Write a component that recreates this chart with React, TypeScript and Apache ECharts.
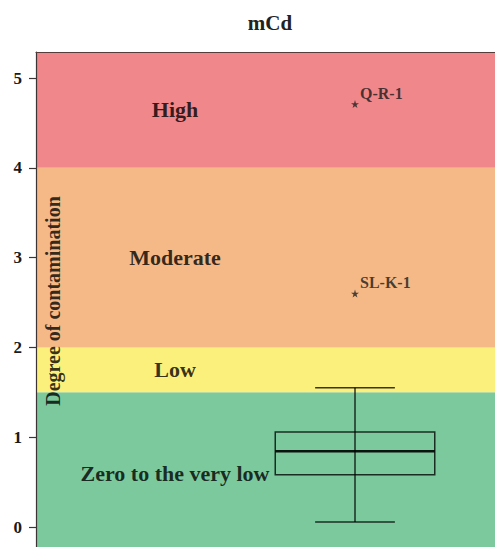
import React, { useEffect, useRef } from 'react';
import * as echarts from 'echarts';

const chartTitle = 'mCd';
const axisTitle = 'Degree of contamination';
const categories = ['mCd'];
const yTicks = [0, 1, 2, 3, 4, 5];
const yMin = -0.3;
const yMax = 5.29;

const bandNames = ['Zero to the very low', 'Low', 'Moderate', 'High'];
const bandFrom = [-0.3, 1.5, 2, 4];
const bandTo = [1.5, 2, 4, 5.29];

// min, q1, median, q3, max
const boxStats = [0.056, 0.583, 0.843, 1.058, 1.552];

const outlierNames = ['Q-R-1', 'SL-K-1'];
const outlierValues = [4.71, 2.6];

const bandColors = ['#7bc99c', '#fcf07c', '#f4b987', '#f0878b'];
const SERIF = "'Liberation Serif', 'Times New Roman', serif";
const STAR = 'path://M50,0 L61,35 L98,35 L68,57 L79,91 L50,70 L21,91 L32,57 L2,35 L39,35 Z';

export default function App() {
  const ref = useRef<HTMLDivElement>(null);

  useEffect(() => {
    if (!ref.current) return;
    const chart = echarts.init(ref.current, undefined, { renderer: 'svg' });
    const option: any = {
      animation: false,
      grid: { left: 36, top: 52, width: 638, height: 502 },
      graphic: [
        {
          type: 'text',
          x: 270,
          y: 23,
          style: {
            text: chartTitle,
            align: 'center',
            verticalAlign: 'middle',
            fontFamily: SERIF,
            fontWeight: 'bold',
            fontSize: 21,
            fill: '#222',
          },
        },
        {
          type: 'text',
          x: 53,
          y: 301,
          rotation: Math.PI / 2,
          z: 100,
          style: {
            text: axisTitle,
            align: 'center',
            verticalAlign: 'middle',
            fontFamily: SERIF,
            fontWeight: 'bold',
            fontSize: 20,
            fill: 'rgba(0,0,0,0.8)',
          },
        },
      ],
      xAxis: [
        {
          type: 'category',
          data: categories,
          axisLine: { show: false },
          axisTick: { show: false },
          axisLabel: { show: false },
          splitLine: { show: false },
        },
        {
          type: 'category',
          data: categories,
          position: 'top',
          z: 10,
          axisLine: { show: true, lineStyle: { color: '#5a3b3b', width: 1.2 } },
          axisTick: { show: false },
          axisLabel: { show: false },
          splitLine: { show: false },
        },
      ],
      yAxis: {
        type: 'value',
        min: yMin,
        max: yMax,
        z: 10,
        axisLine: { show: true, lineStyle: { color: '#3d3535', width: 1.2 } },
        axisTick: {
          show: true,
          length: 7,
          customValues: yTicks,
          lineStyle: { color: '#3d3535', width: 1.2 },
        },
        axisLabel: {
          customValues: yTicks,
          margin: 14,
          fontFamily: SERIF,
          fontWeight: 'bold',
          fontSize: 17,
          color: '#1a1a1a',
        },
        splitLine: { show: false },
      },
      series: [
        {
          type: 'custom',
          z: 1,
          silent: true,
          xAxisIndex: 0,
          data: bandNames.map((_, i) => [0, bandFrom[i], bandTo[i], i]),
          renderItem: (params: any, api: any) => {
            const from = api.value(1);
            const to = api.value(2);
            const idx = api.value(3);
            const cs = params.coordSys;
            const yTop = api.coord([0, to])[1];
            const yBot = api.coord([0, from])[1];
            return {
              type: 'group',
              children: [
                {
                  type: 'rect',
                  shape: { x: cs.x, y: yTop, width: cs.width, height: yBot - yTop },
                  style: { fill: bandColors[idx] },
                },
                {
                  type: 'text',
                  x: cs.x + 139,
                  y: (yTop + yBot) / 2,
                  style: {
                    text: bandNames[idx],
                    align: 'center',
                    verticalAlign: 'middle',
                    fontFamily: SERIF,
                    fontWeight: 'bold',
                    fontSize: 22,
                    fill: 'rgba(0,0,0,0.8)',
                  },
                },
              ],
            };
          },
        },
        {
          type: 'custom',
          z: 3,
          silent: true,
          xAxisIndex: 0,
          data: [[0, ...boxStats]],
          renderItem: (params: any, api: any) => {
            const c = api.value(0);
            const lo = api.coord([c, api.value(1)]);
            const q1 = api.coord([c, api.value(2)]);
            const med = api.coord([c, api.value(3)]);
            const q3 = api.coord([c, api.value(4)]);
            const hi = api.coord([c, api.value(5)]);
            const bw = api.size([1, 0])[0] * 0.25;
            const cw = bw / 2;
            const cx = lo[0];
            const stroke = 'rgba(0,0,0,0.78)';
            return {
              type: 'group',
              children: [
                {
                  type: 'line',
                  shape: { x1: cx, y1: hi[1], x2: cx, y2: lo[1] },
                  style: { stroke, lineWidth: 1.5 },
                },
                {
                  type: 'line',
                  shape: { x1: cx - cw / 2, y1: hi[1], x2: cx + cw / 2, y2: hi[1] },
                  style: { stroke, lineWidth: 1.5 },
                },
                {
                  type: 'line',
                  shape: { x1: cx - cw / 2, y1: lo[1], x2: cx + cw / 2, y2: lo[1] },
                  style: { stroke, lineWidth: 1.5 },
                },
                {
                  type: 'rect',
                  shape: { x: cx - bw / 2, y: q3[1], width: bw, height: q1[1] - q3[1] },
                  style: { fill: 'none', stroke, lineWidth: 1.5 },
                },
                {
                  type: 'line',
                  shape: { x1: cx - bw / 2, y1: med[1], x2: cx + bw / 2, y2: med[1] },
                  style: { stroke: 'rgba(0,0,0,0.9)', lineWidth: 2.5 },
                },
              ],
            };
          },
        },
        {
          type: 'scatter',
          z: 4,
          xAxisIndex: 0,
          symbol: STAR,
          symbolSize: 8,
          itemStyle: { color: '#222' },
          data: outlierValues.map((v, i) => ({ name: outlierNames[i], value: [categories[0], v] })),
          label: {
            show: true,
            formatter: '{b}',
            position: 'right',
            distance: 1,
            offset: [0, -11],
            fontFamily: SERIF,
            fontWeight: 'bold',
            fontSize: 16,
            color: '#1a1a1a',
          },
        },
      ],
    };
    chart.setOption(option);
    return () => chart.dispose();
  }, []);

  return (
    <div
      style={{
        position: 'fixed',
        left: 0,
        top: 0,
        width: 495,
        height: 547,
        overflow: 'hidden',
        background: '#fff',
      }}
    >
      <div ref={ref} style={{ width: 720, height: 600 }} />
    </div>
  );
}
